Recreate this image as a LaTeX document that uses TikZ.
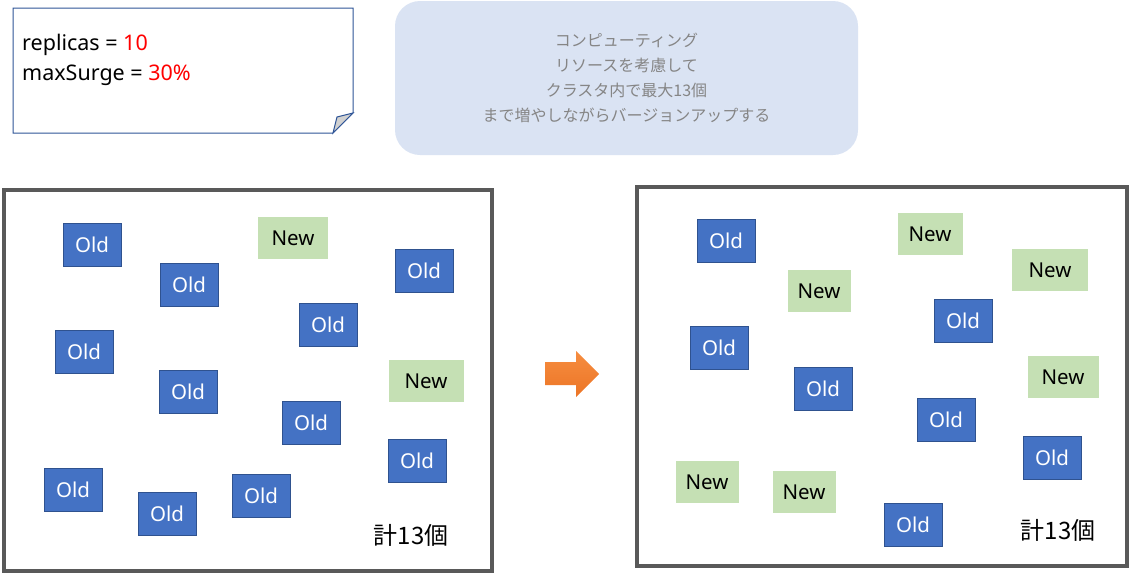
\documentclass[tikz,border=0pt]{standalone}
\usepackage{fontspec}
\setmainfont{Noto Sans}
\newfontfamily\jpfont{Noto Sans CJK JP}

\definecolor{oldblue}{HTML}{4472C4}
\definecolor{oldedge}{HTML}{2F528F}
\definecolor{newgreen}{HTML}{C5E0B4}
\definecolor{framegray}{HTML}{595959}
\definecolor{bubblefill}{HTML}{DAE3F3}
\definecolor{bubbletext}{HTML}{858585}
\definecolor{noteedge}{HTML}{2F5597}
\definecolor{arrowtop}{HTML}{F68D40}
\definecolor{arrowbottom}{HTML}{EC7526}

\tikzset{
  oldpod/.style={draw=oldedge, line width=1pt, fill=oldblue, text=white,
    minimum width=58pt, minimum height=43pt, inner sep=0pt,
    font=\fontsize{20.5}{24}\selectfont},
  newpod/.style={fill=newgreen, text=black,
    minimum width=65pt, minimum height=42pt, inner sep=0pt,
    font=\fontsize{20.5}{24}\selectfont},
  cluster/.style={draw=framegray, line width=3.5pt},
  podcount/.style={inner sep=0pt, font=\jpfont\fontsize{24}{28}\selectfont},
}

\begin{document}
\begin{tikzpicture}[x=1pt, y=-1pt]
\useasboundingbox (0,0) rectangle (1134,584);

% settings note
\draw[noteedge, line width=1pt, fill=white] (13,8) -- (353,8) -- (353,113) -- (333,133) -- (13,133) -- cycle;
\draw[noteedge, line width=1pt, fill=black!18] (353,113) -- (337,117) -- (333,133) -- cycle;
\node[anchor=west, inner sep=0pt, font=\fontsize{21.5}{25}\selectfont] (replicas) at (22,45) {replicas = \textcolor{red}{10}};
\node[anchor=west, inner sep=0pt, font=\fontsize{21.5}{25}\selectfont] (surge) at (22,75) {maxSurge = \textcolor{red}{30\%}};

% explanation
\node[rounded corners=25pt, fill=bubblefill, minimum width=463pt, minimum height=154pt,
  align=center, text=bubbletext, font=\jpfont\fontsize{16}{25}\selectfont] (policy) at (626.5,78)
  {コンピューティング\\リソースを考慮して\\クラスタ内で最大13個\\まで増やしながらバージョンアップする};

% before
\draw[cluster] (4,190) rectangle (492,571);
\node[oldpod] (lo1) at (92,245) {Old};
\node[oldpod] (lo2) at (189,285) {Old};
\node[newpod, minimum width=70pt] (ln1) at (293,238) {New};
\node[oldpod] (lo3) at (424,271) {Old};
\node[oldpod] (lo4) at (328,325) {Old};
\node[oldpod] (lo5) at (84,352) {Old};
\node[oldpod] (lo6) at (188,392) {Old};
\node[newpod, minimum width=75pt] (ln2) at (426,381) {New};
\node[oldpod] (lo7) at (311,423) {Old};
\node[oldpod] (lo8) at (417,461) {Old};
\node[oldpod] (lo9) at (73,490) {Old};
\node[oldpod] (lo10) at (167,514) {Old};
\node[oldpod] (lo11) at (261,496) {Old};
\node[podcount] (lsum) at (411,535) {計13個};

% step arrow
\shade[top color=arrowtop, bottom color=arrowbottom]
  (545,362) -- (576,362) -- (576,351) -- (599,374) -- (576,397) -- (576,385) -- (545,385) -- cycle;

% after
\draw[cluster] (637,187) rectangle (1127,566);
\node[oldpod] (ro1) at (726,241) {Old};
\node[newpod] (rn1) at (930,234) {New};
\node[newpod, minimum width=76pt] (rn2) at (1050,270) {New};
\node[newpod, minimum width=63pt] (rn3) at (819,291) {New};
\node[oldpod] (ro2) at (963,321) {Old};
\node[oldpod] (ro3) at (719,348) {Old};
\node[newpod, minimum width=71pt] (rn4) at (1063,377) {New};
\node[oldpod] (ro4) at (823,389) {Old};
\node[oldpod] (ro5) at (946,420) {Old};
\node[oldpod] (ro6) at (1052,458) {Old};
\node[newpod, minimum width=63pt] (rn5) at (707,482) {New};
\node[newpod, minimum width=63pt] (rn6) at (804,492) {New};
\node[oldpod] (ro7) at (913,525) {Old};
\node[podcount] (rsum) at (1058,530) {計13個};

\end{tikzpicture}
\end{document}
